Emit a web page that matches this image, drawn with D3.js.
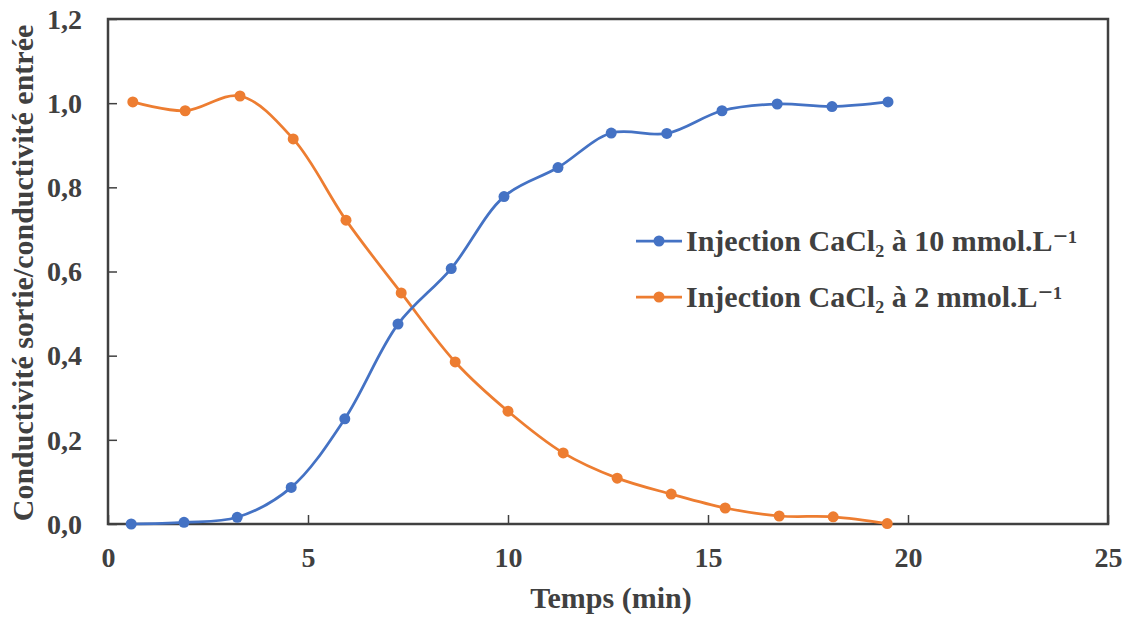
<!DOCTYPE html>
<html><head><meta charset="utf-8">
<script src="https://cdn.jsdelivr.net/npm/d3@7"></script>
<style>body{margin:0;background:#fff}svg{display:block}</style>
</head><body><svg id="c" width="1134" height="619"></svg>
<script>
const timeBlue = [0.58,1.9,3.23,4.58,5.92,7.25,8.58,9.9,11.25,12.58,13.97,15.35,16.73,18.1,19.5];
const valBlue  = [0.0,0.004,0.016,0.087,0.25,0.475,0.607,0.778,0.847,0.929,0.928,0.982,0.998,0.992,1.003];
const timeOrange = [0.62,1.93,3.3,4.63,5.95,7.33,8.68,10.0,11.38,12.73,14.08,15.43,16.78,18.13,19.48];
const valOrange  = [1.003,0.982,1.017,0.915,0.722,0.549,0.385,0.268,0.169,0.109,0.071,0.038,0.019,0.017,0.001];
const seriesNames = ["Injection CaCl\u2082 à 10 mmol.L\u207B\u00B9","Injection CaCl\u2082 à 2 mmol.L\u207B\u00B9"];
const xTicks = [0,5,10,15,20,25];
const yTicks = [0,0.2,0.4,0.6,0.8,1.0,1.2];
const colors = ["#4472C4","#ED7D31"];
const FONT = "'Liberation Serif', Tinos, 'Times New Roman', 'DejaVu Serif', serif";

const svg = d3.select("#c");
const x = d3.scaleLinear().domain([0,25]).range([108,1108]);
const y = d3.scaleLinear().domain([0,1.2]).range([524,19]);
const fmt = d => d3.format(".1f")(d).replace(".",",");

svg.append("rect").attr("x",108).attr("y",19).attr("width",1000).attr("height",505)
  .attr("fill","none").attr("stroke","#404040").attr("stroke-width",2.5);

const xa = svg.append("g").attr("transform","translate(0,524)")
  .call(d3.axisBottom(x).tickValues(xTicks).tickSize(-9).tickPadding(23).tickFormat(d3.format("d")));
const ya = svg.append("g").attr("transform","translate(108,0)")
  .call(d3.axisLeft(y).tickValues(yTicks).tickSize(-9).tickPadding(26).tickFormat(fmt));
[xa,ya].forEach(a=>{
  a.attr("font-family",FONT).attr("font-size",null);
  a.select(".domain").remove();
  a.selectAll(".tick line").attr("stroke","#404040").attr("stroke-width",1.5);
  a.selectAll(".tick text").attr("font-family",FONT).attr("font-weight","bold")
    .attr("font-size","28px").attr("fill","#404040");
});
ya.selectAll(".tick text").attr("dy","0.33em");
xa.selectAll(".tick text").attr("dy","0.71em");

const series = [
  {t:timeBlue, v:valBlue, c:colors[0], name:seriesNames[0]},
  {t:timeOrange, v:valOrange, c:colors[1], name:seriesNames[1]}
];
const line = d3.line().x(d=>x(d[0])).y(d=>y(d[1])).curve(d3.curveCatmullRom.alpha(0.5));
[series[1], series[0]].forEach(s=>{
  const pts = s.t.map((t,i)=>[t,s.v[i]]);
  svg.append("path").datum(pts).attr("d",line).attr("fill","none")
    .attr("stroke",s.c).attr("stroke-width",2.75);
  svg.append("g").selectAll("circle").data(pts).join("circle")
    .attr("cx",d=>x(d[0])).attr("cy",d=>y(d[1])).attr("r",5.5).attr("fill",s.c);
});

function txt(){ return svg.append("text").attr("font-family",FONT).attr("font-weight","bold").attr("fill","#404040"); }

series.forEach((s,i)=>{
  const ly = 241 + i*56;
  svg.append("line").attr("x1",636).attr("x2",682).attr("y1",ly).attr("y2",ly)
    .attr("stroke",s.c).attr("stroke-width",2.75);
  svg.append("circle").attr("cx",659).attr("cy",ly).attr("r",5.5).attr("fill",s.c);
  txt().attr("x",686).attr("y",ly).attr("dy","0.33em").attr("font-size","30px").text(s.name);
});

txt().attr("x",611).attr("y",608).attr("text-anchor","middle").attr("font-size","30px").text("Temps (min)");
txt().attr("transform","translate(33,273) rotate(-90)").attr("text-anchor","middle")
  .attr("font-size","30px").text("Conductivité sortie/conductivité entrée");
</script></body></html>
